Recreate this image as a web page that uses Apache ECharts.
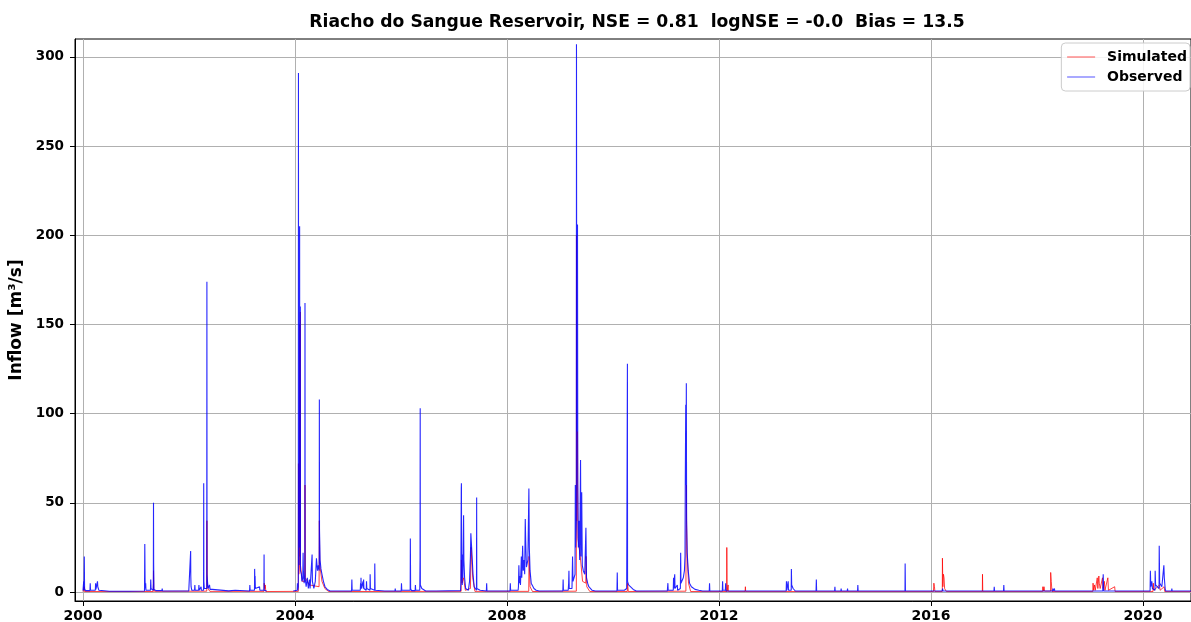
<!DOCTYPE html>
<html>
<head>
<meta charset="utf-8">
<title>Riacho do Sangue Reservoir inflow</title>
<script src="https://cdn.jsdelivr.net/npm/echarts@6/dist/echarts.min.js"></script>
<style>
  html, body { margin: 0; padding: 0; background: #fff; }
  #chart { width: 1191px; height: 622px; }
</style>
</head>
<body>
<div id="chart"></div>
<script>
// Daily reservoir inflow [m3/s]: key days of each flood event, baseline between them.
const observed = [
  ['2000-01-01', 0.8], ['2000-01-06', 6], ['2000-01-08', 1], ['2000-01-10', 20], ['2000-01-12', 2],
  ['2000-01-18', 0.8], ['2000-02-18', 0.8], ['2000-02-20', 5], ['2000-02-22', 1], ['2000-03-26', 1],
  ['2000-03-28', 5], ['2000-03-30', 1.5], ['2000-04-08', 1], ['2000-04-10', 6], ['2000-04-12', 3],
  ['2000-04-18', 4], ['2000-04-20', 1], ['2000-04-26', 0.6], ['2000-07-01', 0.5], ['2000-07-03', 1],
  ['2000-07-05', 0.5], ['2000-11-18', 0.5], ['2000-11-20', 1], ['2000-11-22', 0.5],
  ['2001-02-28', 0.6], ['2001-03-02', 27], ['2001-03-04', 6], ['2001-03-06', 2], ['2001-03-08', 5],
  ['2001-03-10', 1], ['2001-04-10', 1], ['2001-04-12', 7], ['2001-04-14', 2], ['2001-04-28', 1],
  ['2001-04-30', 5], ['2001-05-01', 50], ['2001-05-02', 16], ['2001-05-04', 1.5], ['2001-05-20', 0.8],
  ['2001-06-28', 0.8], ['2001-06-30', 2], ['2001-07-02', 0.6], ['2001-09-10', 0.6], ['2001-12-30', 0.6],
  ['2002-01-11', 1], ['2002-01-12', 23], ['2002-01-13', 9], ['2002-01-15', 3], ['2002-01-20', 1],
  ['2002-02-08', 1], ['2002-02-10', 4], ['2002-02-12', 1], ['2002-03-08', 1], ['2002-03-10', 4],
  ['2002-03-12', 1], ['2002-03-25', 3], ['2002-03-27', 1], ['2002-04-11', 1], ['2002-04-12', 61],
  ['2002-04-13', 6], ['2002-04-16', 2], ['2002-05-03', 2], ['2002-05-04', 174], ['2002-05-05', 10],
  ['2002-05-08', 6], ['2002-05-12', 2], ['2002-05-22', 4], ['2002-05-26', 1.5], ['2002-06-10', 1.5],
  ['2002-06-14', 0.7], ['2002-10-01', 0.7], ['2002-11-15', 1], ['2002-11-17', 0.6],
  ['2003-02-22', 0.6], ['2003-02-24', 4], ['2003-02-26', 1], ['2003-03-28', 1], ['2003-03-29', 13],
  ['2003-03-31', 5], ['2003-04-01', 9], ['2003-04-03', 2], ['2003-04-10', 1], ['2003-05-02', 3],
  ['2003-05-04', 1], ['2003-06-01', 1], ['2003-06-02', 21], ['2003-06-03', 1], ['2003-06-20', 0.6],
  ['2003-07-01', null],
  ['2003-12-20', 0.6], ['2004-01-16', 1], ['2004-01-18', 5], ['2004-01-20', 1], ['2004-01-24', 3],
  ['2004-01-25', 291], ['2004-01-26', 40], ['2004-01-29', 15], ['2004-01-31', 70], ['2004-02-02', 205],
  ['2004-02-03', 30], ['2004-02-05', 25], ['2004-02-07', 160], ['2004-02-08', 12], ['2004-02-14', 10],
  ['2004-02-18', 6], ['2004-02-24', 8], ['2004-02-26', 22], ['2004-02-28', 12], ['2004-03-04', 5],
  ['2004-03-09', 8], ['2004-03-10', 162], ['2004-03-11', 8], ['2004-03-18', 3], ['2004-03-26', 8],
  ['2004-04-02', 2], ['2004-04-10', 7], ['2004-04-14', 2], ['2004-04-27', 3], ['2004-04-28', 21],
  ['2004-04-30', 6], ['2004-05-10', 2], ['2004-05-20', 6], ['2004-05-28', 19], ['2004-06-04', 12],
  ['2004-06-10', 15], ['2004-06-16', 12], ['2004-06-17', 108], ['2004-06-18', 35], ['2004-06-22', 18],
  ['2004-06-28', 13], ['2004-07-05', 10], ['2004-07-15', 6], ['2004-07-26', 3], ['2004-08-10', 1.5],
  ['2004-08-30', 0.6], ['2004-11-08', 0.6], ['2004-11-10', 1.5], ['2004-11-12', 0.6],
  ['2005-01-25', 0.6], ['2005-01-27', 7], ['2005-01-29', 1], ['2005-03-26', 1], ['2005-03-28', 5],
  ['2005-03-30', 2], ['2005-03-31', 8], ['2005-04-02', 2], ['2005-04-12', 1], ['2005-04-14', 6],
  ['2005-04-16', 2], ['2005-04-18', 7], ['2005-04-20', 2], ['2005-05-06', 1], ['2005-05-08', 6],
  ['2005-05-10', 2], ['2005-06-01', 1], ['2005-06-02', 10], ['2005-06-04', 2], ['2005-07-03', 1],
  ['2005-07-04', 16], ['2005-07-06', 1], ['2005-09-10', 0.6], ['2005-11-20', 0.6], ['2005-11-22', 2],
  ['2005-11-24', 0.6],
  ['2006-01-02', 0.6], ['2006-01-04', 5], ['2006-01-06', 1], ['2006-03-05', 1], ['2006-03-06', 30],
  ['2006-03-08', 2], ['2006-03-14', 0.8], ['2006-04-08', 0.8], ['2006-04-10', 4], ['2006-04-12', 1],
  ['2006-05-10', 1], ['2006-05-12', 20], ['2006-05-13', 103], ['2006-05-14', 4], ['2006-05-24', 2],
  ['2006-06-20', 0.6], ['2006-09-01', 0.6], ['2006-09-03', 1.5], ['2006-09-05', 0.5],
  ['2007-02-15', 0.8], ['2007-02-17', 5], ['2007-02-20', 58], ['2007-02-21', 61], ['2007-02-23', 10],
  ['2007-02-27', 4], ['2007-03-01', 21], ['2007-03-03', 8], ['2007-03-08', 43], ['2007-03-10', 18],
  ['2007-03-15', 8], ['2007-03-22', 2], ['2007-04-10', 1], ['2007-04-18', 6], ['2007-04-24', 20],
  ['2007-04-27', 33], ['2007-05-03', 24], ['2007-05-12', 10], ['2007-05-20', 3], ['2007-06-05', 1],
  ['2007-06-06', 53], ['2007-06-07', 2], ['2007-06-30', 1], ['2007-08-12', 0.6], ['2007-08-14', 5],
  ['2007-08-16', 0.6], ['2007-12-10', 0.6],
  ['2008-01-22', 0.6], ['2008-01-24', 5], ['2008-01-26', 1], ['2008-03-18', 1], ['2008-03-20', 3],
  ['2008-03-23', 15], ['2008-03-26', 5], ['2008-03-30', 9], ['2008-04-03', 4], ['2008-04-09', 20],
  ['2008-04-12', 8], ['2008-04-18', 26], ['2008-04-22', 12], ['2008-04-28', 18], ['2008-05-02', 10],
  ['2008-05-06', 41], ['2008-05-09', 29], ['2008-05-14', 14], ['2008-05-24', 18], ['2008-05-31', 58],
  ['2008-06-03', 25], ['2008-06-08', 12], ['2008-06-16', 5], ['2008-07-05', 2], ['2008-07-20', 1],
  ['2008-08-10', 0.6], ['2008-12-30', 0.6],
  ['2009-01-20', 0.6], ['2009-01-22', 7], ['2009-01-24', 1], ['2009-02-26', 1], ['2009-03-01', 5],
  ['2009-03-03', 12], ['2009-03-05', 2], ['2009-03-24', 2], ['2009-03-28', 20], ['2009-03-31', 6],
  ['2009-04-14', 10], ['2009-04-16', 60], ['2009-04-18', 25], ['2009-04-23', 40], ['2009-04-24', 307],
  ['2009-04-26', 90], ['2009-04-30', 120], ['2009-05-01', 206], ['2009-05-03', 60], ['2009-05-07', 25],
  ['2009-05-12', 40], ['2009-05-16', 18], ['2009-05-22', 74], ['2009-05-25', 20], ['2009-05-30', 56],
  ['2009-06-03', 15], ['2009-06-10', 12], ['2009-06-20', 10], ['2009-06-28', 36], ['2009-07-02', 8],
  ['2009-07-10', 5], ['2009-07-18', 3], ['2009-08-10', 1], ['2009-09-01', 0.6],
  ['2010-01-28', 0.6], ['2010-01-30', 11], ['2010-02-01', 1], ['2010-03-20', 1], ['2010-04-05', 2],
  ['2010-04-09', 3], ['2010-04-10', 128], ['2010-04-11', 6], ['2010-04-18', 4], ['2010-05-01', 3],
  ['2010-05-20', 1.5], ['2010-06-10', 0.6], ['2010-11-04', 0.6], ['2010-11-06', 1.5], ['2010-11-08', 0.5],
  ['2011-01-10', 0.6], ['2011-01-14', 5], ['2011-01-16', 1], ['2011-02-20', 1], ['2011-02-22', 8],
  ['2011-02-24', 2], ['2011-03-02', 10], ['2011-03-04', 2], ['2011-03-20', 4], ['2011-03-22', 1],
  ['2011-04-10', 2], ['2011-04-12', 22], ['2011-04-14', 5], ['2011-04-30', 8], ['2011-05-08', 12],
  ['2011-05-12', 20], ['2011-05-14', 64], ['2011-05-17', 105], ['2011-05-19', 60], ['2011-05-21', 117],
  ['2011-05-23', 40], ['2011-05-27', 22], ['2011-06-03', 12], ['2011-06-12', 5], ['2011-06-25', 3],
  ['2011-07-20', 1.5], ['2011-08-15', 1], ['2011-09-10', 0.6], ['2011-10-26', 0.6], ['2011-10-28', 5],
  ['2011-10-30', 0.6],
  ['2012-01-24', 0.6], ['2012-01-26', 6], ['2012-01-28', 1], ['2012-02-14', 1], ['2012-02-16', 5],
  ['2012-02-18', 0.6], ['2012-04-10', 0.6], ['2012-04-12', 1.5], ['2012-04-14', 0.5],
  ['2013-04-08', 0.6], ['2013-04-10', 6], ['2013-04-12', 1], ['2013-04-20', 1], ['2013-04-22', 6],
  ['2013-04-24', 1], ['2013-05-13', 1], ['2013-05-14', 13], ['2013-05-16', 4], ['2013-05-26', 2],
  ['2013-06-10', 0.6], ['2013-10-31', 0.6], ['2013-11-02', 7], ['2013-11-04', 0.6],
  ['2014-03-08', 0.6], ['2014-03-10', 3], ['2014-03-12', 0.6], ['2014-04-20', 0.6], ['2014-04-22', 2],
  ['2014-04-24', 0.6], ['2014-06-03', 0.6], ['2014-06-05', 2], ['2014-06-07', 0.6], ['2014-08-13', 0.6],
  ['2014-08-15', 4], ['2014-08-17', 0.6], ['2014-12-01', 0.6], ['2014-12-03', 1.5], ['2014-12-05', 0.6],
  ['2015-07-06', 0.6], ['2015-07-07', 16], ['2015-07-09', 0.6],
  ['2016-03-18', 0.6], ['2016-03-21', 2], ['2016-03-24', 0.6],
  ['2017-03-10', 0.6], ['2017-03-12', 3], ['2017-03-14', 0.6], ['2017-05-15', 0.6], ['2017-05-17', 4],
  ['2017-05-19', 0.6],
  ['2018-04-18', 0.6], ['2018-04-20', 2], ['2018-04-22', 0.6], ['2018-04-29', 0.6], ['2018-05-01', 2],
  ['2018-05-03', 0.6],
  ['2019-03-30', 0.6], ['2019-04-02', 10], ['2019-04-05', 0.6],
  ['2020-02-19', 0.6], ['2020-02-21', 12], ['2020-02-24', 3], ['2020-03-02', 6], ['2020-03-06', 2],
  ['2020-03-24', 1], ['2020-03-25', 12], ['2020-03-28', 4], ['2020-04-21', 2], ['2020-04-22', 26],
  ['2020-04-25', 5], ['2020-05-10', 3], ['2020-05-23', 2], ['2020-05-24', 15], ['2020-05-27', 8],
  ['2020-06-02', 2], ['2020-06-06', 0.6], ['2020-07-16', 0.6], ['2020-07-18', 2], ['2020-07-20', 0.6],
  ['2020-12-31', 0.6]
];

const simulated = [
  ['2000-01-01', 0.3], ['2000-01-09', 0.4], ['2000-01-10', 3], ['2000-01-12', 0.3],
  ['2001-04-30', 0.3], ['2001-05-01', 12], ['2001-05-03', 2], ['2001-05-08', 0.4],
  ['2002-05-03', 0.5], ['2002-05-04', 40], ['2002-05-06', 5], ['2002-05-12', 2], ['2002-05-24', 0.4],
  ['2003-06-02', 0.4], ['2003-06-03', 5], ['2003-06-07', 2], ['2003-06-10', 4], ['2003-06-14', 0.3],
  ['2004-01-24', 0.4], ['2004-01-25', 72], ['2004-01-27', 10], ['2004-02-01', 15], ['2004-02-02', 150],
  ['2004-02-03', 20], ['2004-02-06', 25], ['2004-02-07', 157], ['2004-02-08', 15], ['2004-02-20', 6],
  ['2004-03-09', 6], ['2004-03-10', 60], ['2004-03-12', 8], ['2004-04-10', 4], ['2004-06-15', 3],
  ['2004-06-17', 40], ['2004-06-20', 15], ['2004-07-05', 6], ['2004-07-25', 2], ['2004-08-20', 0.3],
  ['2007-02-19', 0.4], ['2007-02-21', 18], ['2007-02-25', 5], ['2007-03-08', 8], ['2007-03-20', 1],
  ['2007-04-24', 2], ['2007-04-29', 25], ['2007-05-10', 8], ['2007-05-25', 0.4],
  ['2008-05-30', 0.4], ['2008-06-01', 20], ['2008-06-08', 3], ['2008-06-25', 0.3],
  ['2009-04-23', 0.5], ['2009-04-24', 200], ['2009-04-26', 40], ['2009-05-01', 90], ['2009-05-04', 30],
  ['2009-05-20', 20], ['2009-06-05', 6], ['2009-06-27', 5], ['2009-06-29', 20], ['2009-07-04', 3],
  ['2009-07-25', 0.3],
  ['2010-04-09', 0.3], ['2010-04-11', 5], ['2010-04-16', 0.3],
  ['2011-05-18', 0.5], ['2011-05-21', 60], ['2011-05-23', 38], ['2011-05-26', 22], ['2011-06-05', 5],
  ['2011-06-20', 0.3],
  ['2012-02-23', 0.3], ['2012-02-24', 25], ['2012-02-26', 0.3], ['2012-03-04', 4], ['2012-03-06', 0.3],
  ['2012-06-29', 0.3], ['2012-07-01', 3], ['2012-07-03', 0.3],
  ['2016-01-18', 0.3], ['2016-01-21', 5], ['2016-01-25', 3], ['2016-01-28', 0.3], ['2016-03-19', 0.3],
  ['2016-03-20', 19], ['2016-03-23', 3], ['2016-03-27', 10], ['2016-03-31', 8], ['2016-04-04', 2],
  ['2016-04-12', 3], ['2016-04-16', 0.3], ['2016-12-20', 0.3], ['2016-12-21', 10], ['2016-12-23', 0.3],
  ['2018-02-08', 0.3], ['2018-02-10', 3], ['2018-02-14', 0.5], ['2018-02-18', 3], ['2018-02-22', 0.5],
  ['2018-04-04', 0.5], ['2018-04-05', 11], ['2018-04-09', 6], ['2018-04-14', 0.3],
  ['2019-01-20', 0.3], ['2019-01-22', 5], ['2019-01-26', 1], ['2019-02-01', 4], ['2019-02-06', 1],
  ['2019-02-20', 8], ['2019-02-24', 2], ['2019-03-03', 9], ['2019-03-06', 5], ['2019-03-12', 2],
  ['2019-03-28', 8], ['2019-04-01', 2], ['2019-04-10', 6], ['2019-04-14', 1], ['2019-05-04', 8],
  ['2019-05-08', 1], ['2019-06-20', 3], ['2019-06-23', 0.3],
  ['2020-03-10', 0.3], ['2020-03-12', 5], ['2020-03-16', 1], ['2020-04-24', 4], ['2020-04-28', 1],
  ['2020-05-26', 3], ['2020-05-30', 0.3], ['2020-12-31', 0.3]
];

const yearTicks = [2000, 2004, 2008, 2012, 2016, 2020];
const flowTicks = [0, 50, 100, 150, 200, 250, 300];
const chartTitle = 'Riacho do Sangue Reservoir, NSE = 0.81  logNSE = -0.0  Bias = 13.5';

const font = 'DejaVu Sans';

// Dates become millisecond stamps on a numeric axis; a missing day becomes a gap.
const toStamp = d => { const p = d.split('-').map(Number); return Date.UTC(p[0], p[1] - 1, p[2]); };
const toSeries = rows => rows.map(([d, v]) => [toStamp(d), v === null ? '-' : v]);
const yearStamps = yearTicks.map(y => Date.UTC(y, 0, 1));

const chart = echarts.init(document.getElementById('chart'), null, { renderer: 'canvas' });

chart.setOption({
  animation: false,
  backgroundColor: '#ffffff',
  graphic: [{
    type: 'text', x: 637, y: 23,
    style: {
      text: chartTitle, fill: '#000', align: 'center', verticalAlign: 'middle',
      font: 'bold 17.2px "DejaVu Sans"'
    }
  }],
  grid: {
    left: 75, right: 0, top: 39, bottom: 21,
    outerBoundsMode: 'none',
    show: true, borderColor: '#000', borderWidth: 1, backgroundColor: 'transparent'
  },
  legend: {
    orient: 'vertical', right: 1, top: 43,
    itemWidth: 28, itemHeight: 14, itemGap: 6,
    padding: [7, 3, 7, 5],
    backgroundColor: 'rgba(255,255,255,0.85)',
    borderColor: '#cccccc', borderWidth: 1, borderRadius: 4,
    itemStyle: { opacity: 0 },
    lineStyle: { width: 1.5, opacity: 0.45 },
    textStyle: { fontFamily: font, fontWeight: 'bold', fontSize: 14, color: '#000', padding: [0, 0, 0, 7] },
    data: ['Simulated', 'Observed']
  },
  xAxis: {
    type: 'value',
    min: toStamp('1999-11-07'), max: toStamp('2020-11-27'),
    axisLine: { show: true, onZero: false, lineStyle: { color: '#000', width: 1 } },
    axisTick: { show: true, length: 5, lineStyle: { color: '#000' }, customValues: yearStamps },
    axisLabel: {
      customValues: yearStamps,
      formatter: v => String(new Date(v).getUTCFullYear()),
      fontFamily: font, fontWeight: 'bold', fontSize: 14, color: '#000', margin: 8
    },
    splitLine: { show: true, lineStyle: { color: '#b0b0b0', width: 1 } }
  },
  yAxis: {
    type: 'value',
    min: -5, max: 310,
    name: 'Inflow [m³/s]', nameLocation: 'middle', nameGap: 42,
    nameTextStyle: { fontFamily: font, fontWeight: 'bold', fontSize: 17, color: '#000' },
    axisLine: { show: true, onZero: false, lineStyle: { color: '#000', width: 1 } },
    axisTick: { show: true, length: 5, lineStyle: { color: '#000' }, customValues: flowTicks },
    axisLabel: {
      customValues: flowTicks,
      fontFamily: font, fontWeight: 'bold', fontSize: 13.5, color: '#000', margin: 11
    },
    splitLine: { show: true, lineStyle: { color: '#b0b0b0', width: 1 } }
  },
  series: [
    {
      name: 'Simulated', type: 'line', data: toSeries(simulated),
      symbol: 'none', showSymbol: false, connectNulls: false,
      color: '#ff0000',
      lineStyle: { color: '#ff0000', width: 1, opacity: 0.75 },
      emphasis: { disabled: true }, z: 2
    },
    {
      name: 'Observed', type: 'line', data: toSeries(observed),
      symbol: 'none', showSymbol: false, connectNulls: false,
      color: '#0000ff',
      lineStyle: { color: '#0000ff', width: 1.1, opacity: 0.85 },
      emphasis: { disabled: true }, z: 3
    }
  ]
});
</script>
</body>
</html>
